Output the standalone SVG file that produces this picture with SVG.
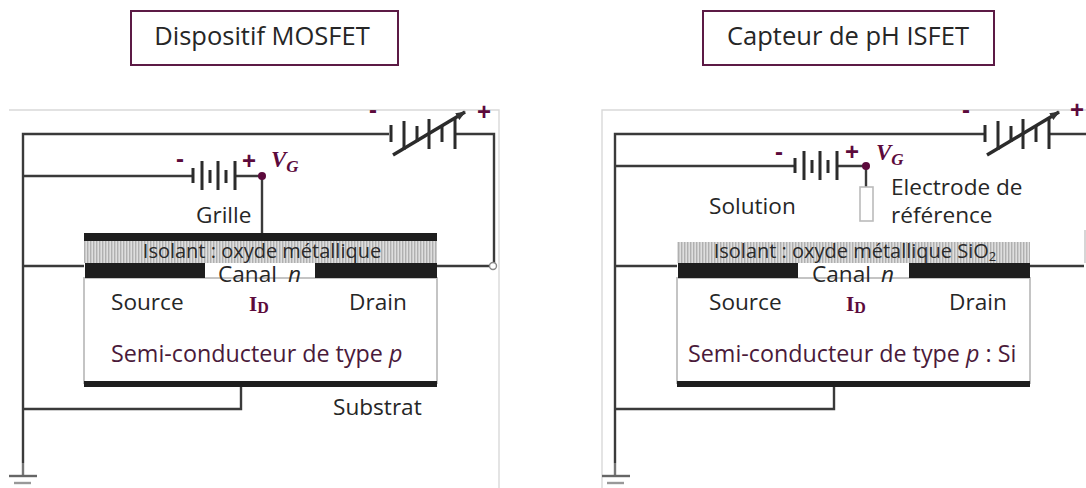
<svg xmlns="http://www.w3.org/2000/svg" width="1086" height="488" viewBox="0 0 1086 488">
<style>
text{font-family:"Open Sans","Noto Sans","Liberation Sans",sans-serif;fill:#262626;font-size:20px}
.w{fill:none;stroke:#3a3a3a;stroke-width:2.4}
.p{fill:none;stroke:#2b2b2b;stroke-width:3}
.title{fill:#fff;stroke:#5c1a45;stroke-width:2}
.t{font-size:25.5px;text-anchor:middle}
.m{fill:#5c0a3c}
.sign{font-family:"Liberation Sans",sans-serif;font-weight:bold;font-size:24px;fill:#5c0a3c;text-anchor:middle}
.v{font-family:"Liberation Serif",serif;font-weight:bold;font-style:italic;fill:#5c0a3c;font-size:23px}
.id{font-family:"Liberation Serif",serif;font-weight:bold;fill:#5c0a3c;font-size:21px}
.b{fill:#1e1e1e}
.ins{fill:url(#hatch)}
.frame{fill:none;stroke:#d9d9d9;stroke-width:1.4}
.box{fill:#fff;stroke:#c4c4c4;stroke-width:2}
.lab{font-size:22.6px}
.iso{font-size:20px;text-anchor:middle;fill:#2a2a2a}
.semi{font-size:23.3px;fill:#4a1a3a}
</style>
<defs>
<pattern id="hatch" width="3" height="3" patternUnits="userSpaceOnUse">
<rect width="3" height="3" fill="#dedede"/><rect width="1.4" height="3" fill="#b0b0b0"/>
</pattern>
<marker id="arr" markerWidth="10" markerHeight="8" refX="9" refY="4" orient="auto" markerUnits="userSpaceOnUse"><path d="M0 0L10 4L0 8z" fill="#333"/></marker>
<marker id="arr2" markerWidth="8" markerHeight="6" refX="7" refY="3" orient="auto" markerUnits="userSpaceOnUse"><path d="M0 0L8 3L0 6z" fill="#333"/></marker>
<g id="bat6">
<path class="p" d="M0 -9V8M13 -13V16M26 -8V8M38 -15V15M51 -8V8M64 -15V15"/>
</g>
<g id="bat">
<path class="p" d="M0 -8V7M9 -15V14M17 -6V7M25 -15V14M33 -6V7M42 -15V14"/>
</g>
</defs>

<g id="connectors">
<path class="frame" d="M9 110H499V488"/>
<path class="frame" d="M602 488V110H1086"/>
<path class="w" d="M389 134H23V463M192 176H23M235 176H262V233M23 266H84M437 266H491M455 134H494V263M241 387V409H23"/>
<path class="w" d="M984 134H615V463M795 166H615M837 166H866V187M615 266H677M1030 266H1084M1050 134H1086M834 387V409H615"/>
<path d="M23 463V476M615 463V476" stroke="#777" stroke-width="2.400" fill="none"/>
<path d="M1085 230V263" stroke="#ccc" stroke-width="1.600" fill="none"/>
<path d="M393 155L465 112" fill="none" stroke="#2b2b2b" stroke-width="3.400" marker-end="url(#arr)"/>
<path d="M987 155L1059 112" fill="none" stroke="#2b2b2b" stroke-width="3.400" marker-end="url(#arr)"/>
<path d="M212 286.500H311" fill="none" stroke="#444" stroke-width="1.600" marker-end="url(#arr2)"/>
<path d="M805 286.500H904" fill="none" stroke="#444" stroke-width="1.600" marker-end="url(#arr2)"/>
</g>

<g id="title-mosfet"><rect class="title" x="131" y="11" width="267" height="54"/><text class="t" x="262" y="45">Dispositif MOSFET</text></g>
<g id="title-isfet"><rect class="title" x="703" y="11" width="291" height="54"/><text class="t" x="848" y="45">Capteur de pH ISFET</text></g>

<g id="mosfet-battery-var"><use href="#bat6" x="391" y="134"/><text class="sign" x="373" y="118">-</text><text class="sign" x="484" y="120">+</text></g>
<g id="mosfet-battery-g"><use href="#bat" x="193" y="176"/><text class="sign" x="180" y="167">-</text><text class="sign" x="249" y="169">+</text></g>
<g id="mosfet-vg"><circle class="m" cx="262" cy="176" r="4"/><text class="v" x="271" y="167">V<tspan font-size="17" dy="5">G</tspan></text></g>
<g id="mosfet-body">
<rect class="box" x="84" y="278" width="353" height="105"/>
<rect class="b" x="84" y="233" width="353" height="8"/>
<rect class="ins" x="84" y="241" width="353" height="22"/>
<rect class="b" x="85" y="263" width="120" height="15"/>
<rect class="b" x="315" y="263" width="122" height="15"/>
<rect class="b" x="84" y="381" width="353" height="6"/>
</g>
<g id="mosfet-terminal"><circle cx="493" cy="266" r="3.500" fill="#fff" stroke="#888" stroke-width="1.400"/></g>
<g id="mosfet-labels">
<text class="lab" x="196" y="223">Grille</text>
<text class="iso" x="262" y="258">Isolant : oxyde métallique</text>
<text class="lab" x="218" y="282">Canal<tspan font-style="italic" x="288">n</tspan></text>
<text class="lab" x="111" y="310">Source</text>
<text class="lab" x="349" y="310">Drain</text>
<text class="id" x="249" y="311">I<tspan font-size="16" dy="2">D</tspan></text>
<text class="semi" x="111" y="362">Semi-conducteur de type <tspan font-style="italic">p</tspan></text>
<text class="lab" x="333" y="415">Substrat</text>
</g>
<g id="mosfet-ground"><path d="M9 476H37" stroke="#666" stroke-width="2.400"/><path d="M14 483H31" stroke="#999" stroke-width="2.400"/></g>

<g id="isfet-battery-var"><use href="#bat6" x="985" y="134"/><text class="sign" x="966" y="118">-</text><text class="sign" x="1077" y="118">+</text></g>
<g id="isfet-battery-g"><use href="#bat" x="795" y="166"/><text class="sign" x="779" y="160">-</text><text class="sign" x="852" y="160">+</text></g>
<g id="isfet-vg"><circle class="m" cx="866" cy="166" r="4"/><text class="v" x="876" y="160">V<tspan font-size="17" dy="5">G</tspan></text></g>
<g id="isfet-electrode"><rect x="860" y="187" width="13" height="34" fill="#fff" stroke="#bbb" stroke-width="1.600"/></g>
<g id="isfet-body">
<rect class="box" x="677" y="278" width="353" height="105"/>
<rect class="ins" x="677" y="242" width="353" height="21"/>
<rect class="b" x="678" y="263" width="120" height="15"/>
<rect class="b" x="909" y="263" width="121" height="15"/>
<rect class="b" x="677" y="381" width="353" height="6"/>
</g>
<g id="isfet-labels">
<text class="lab" x="709" y="214">Solution</text>
<text class="lab" x="891" y="195">Electrode de</text>
<text class="lab" x="891" y="223">référence</text>
<text class="iso" x="855" y="258">Isolant : oxyde métallique SiO<tspan font-size="13" dy="3">2</tspan></text>
<text class="lab" x="812" y="282">Canal<tspan font-style="italic" x="881">n</tspan></text>
<text class="lab" x="709" y="310">Source</text>
<text class="lab" x="949" y="310">Drain</text>
<text class="id" x="846" y="311">I<tspan font-size="16" dy="2">D</tspan></text>
<text class="semi" x="688" y="362">Semi-conducteur de type <tspan font-style="italic">p</tspan> : Si</text>
</g>
<g id="isfet-ground"><path d="M602 476H630" stroke="#666" stroke-width="2.400"/><path d="M607 483H624" stroke="#999" stroke-width="2.400"/></g>
</svg>
